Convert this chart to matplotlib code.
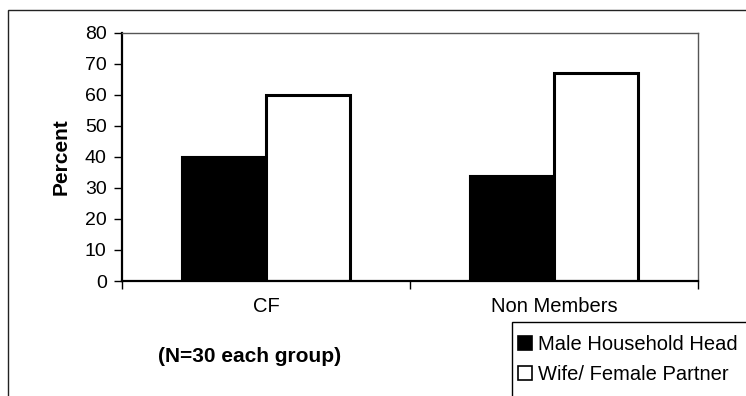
import matplotlib.pyplot as plt
import numpy as np
from matplotlib.patches import Rectangle

plt.rcParams['font.family'] = ['Liberation Sans', 'DejaVu Sans']

groups = ['CF', 'Non Members']
series = ['Male Household Head', 'Wife/ Female Partner']
male = [40, 34]
female = [60, 67]
yticks = [0, 10, 20, 30, 40, 50, 60, 70, 80]

W, H = 746, 396
fig = plt.figure(figsize=(W / 100, H / 100), dpi=100)

# chart area border
fig.patches.append(Rectangle((8 / W, -0.1), 1.2, 1 - 10 / H + 0.1,
                             transform=fig.transFigure, fill=False,
                             edgecolor='#222222', linewidth=1.0))

ax = fig.add_axes([122 / W, 1 - 281 / H, (698 - 122) / W, (281 - 33) / H])

x = np.arange(len(groups))
w = 0.29
b1 = ax.bar(x - w / 2, male, w, color='black', edgecolor='black', linewidth=1.5,
            label=series[0])
b2 = ax.bar(x + w / 2, female, w, color='white', edgecolor='black', linewidth=2.2,
            label=series[1])

ax.set_xlim(-0.5, 1.5)
ax.set_ylim(0, 80)
ax.set_yticks(yticks)
ax.tick_params(axis='y', labelsize=14, length=6, width=1, direction='out', pad=5)
ax.set_xticks([-0.5, 0.5, 1.5])
ax.set_xticklabels([])
ax.tick_params(axis='x', length=6, width=1, direction='out')

for s in ['left', 'bottom']:
    ax.spines[s].set_linewidth(1.6)
for s in ['top', 'right']:
    ax.spines[s].set_linewidth(1.0)
    ax.spines[s].set_color('#555555')

for xi, g in zip(x, groups):
    ax.text(xi, -8.3, g, ha='center', va='center', fontsize=14.5)

ax.set_ylabel('Percent', fontsize=15, fontweight='bold', labelpad=10)

fig.text(250 / W, 1 - 357 / H, '(N=30 each group)', ha='center', va='center',
         fontsize=15, fontweight='bold')

# legend box runs off the right and bottom edges
fig.patches.append(Rectangle((512 / W, -0.1), 1.0, 1 - 322 / H + 0.1,
                             transform=fig.transFigure, fill=False,
                             edgecolor='black', linewidth=1.0))
leg = fig.legend(handles=[b1, b2], loc='upper left',
                 bbox_to_anchor=(518 / W, 1 - 335 / H), fontsize=14.5,
                 frameon=False, handlelength=0.7, handleheight=0.7,
                 handletextpad=0.3, borderpad=0, labelspacing=0.55,
                 borderaxespad=0)
for h in leg.legend_handles:
    h.set_linewidth(1.2)

fig.savefig('out.png', dpi=100)
